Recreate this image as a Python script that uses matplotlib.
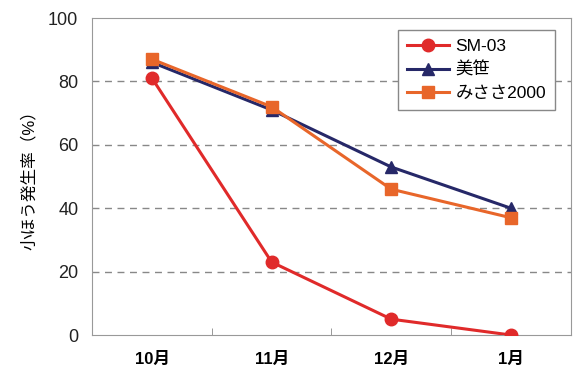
import matplotlib.pyplot as plt
from matplotlib.ticker import FixedLocator

plt.rcParams['font.family'] = ['Liberation Sans', 'Noto Sans CJK JP', 'DejaVu Sans']

months = ['10月', '11月', '12月', '1月']
sm03 = [81, 23, 5, 0]
misasa = [86, 71, 53, 40]
misasa2000 = [87, 72, 46, 37]

fig = plt.figure(figsize=(5.73, 3.76), dpi=100)
ax = fig.add_axes([0.161, 0.109, 0.835, 0.843])

x = range(len(months))
ax.plot(x, sm03, color='#e02a2a', lw=2.2, marker='o', ms=9, label='SM-03', zorder=5)
ax.plot(x, misasa, color='#262868', lw=2.2, marker='^', ms=9, label='美笹', zorder=3)
ax.plot(x, misasa2000, color='#e8662a', lw=2.2, marker='s', ms=9, label='みささ2000', zorder=4)

ax.set_xlim(-0.5, 3.5)
ax.set_ylim(0, 100)
ax.set_yticks([0, 20, 40, 60, 80, 100])
ax.set_xticks(list(x))
ax.set_xticklabels(months, fontsize=12, fontweight='bold')
ax.xaxis.set_minor_locator(FixedLocator([0.5, 1.5, 2.5]))
ax.tick_params(axis='x', which='major', length=0, pad=12)
ax.tick_params(axis='x', which='minor', direction='in', length=5, color='#888888')
ax.tick_params(axis='y', length=0, labelsize=13, pad=10, labelcolor='#222222')
ax.set_ylabel('小ほう発生率（%）', fontsize=12, labelpad=8)

for y in [20, 40, 60, 80]:
    ax.axhline(y, color='#888888', ls=(0, (5, 4)), lw=1, zorder=1)
for s in ax.spines.values():
    s.set_color('#999999')

leg = ax.legend(loc='upper right', bbox_to_anchor=(0.967, 0.962), borderaxespad=0,
                fontsize=12.5, fancybox=False, framealpha=1, edgecolor='#888888',
                handlelength=2.4, borderpad=0.5, labelspacing=0.45, handletextpad=0.4)
leg.get_frame().set_linewidth(1)

fig.savefig('out.png', dpi=100)
